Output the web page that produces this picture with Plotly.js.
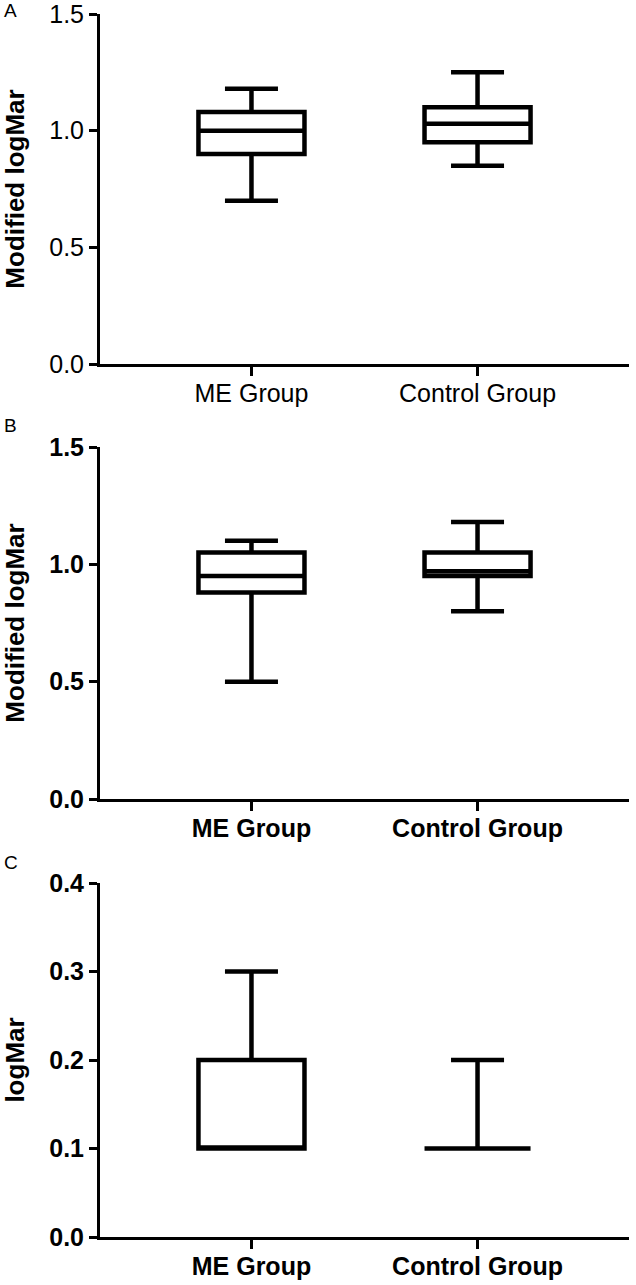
<!DOCTYPE html>
<html>
<head>
<meta charset="utf-8">
<script src="https://cdn.plot.ly/plotly-3.0.1.min.js"></script>
<style>html,body{margin:0;padding:0;background:#fff;}#chart{width:636px;height:1285px;}</style>
</head>
<body>
<div id="chart"></div>
<script>
// Categories
var categories = ['ME Group', 'Control Group'];

// Panel A (Modified logMar)
var aLower  = [0.70, 0.85];
var aQ1     = [0.90, 0.95];
var aMedian = [1.00, 1.03];
var aQ3     = [1.08, 1.10];
var aUpper  = [1.18, 1.25];

// Panel B (Modified logMar)
var bLower  = [0.50, 0.80];
var bQ1     = [0.88, 0.95];
var bMedian = [0.95, 0.97];
var bQ3     = [1.05, 1.05];
var bUpper  = [1.10, 1.18];

// Panel C (logMar)
var cLower  = [0.10, 0.10];
var cQ1     = [0.10, 0.10];
var cMedian = [0.10, 0.10];
var cQ3     = [0.20, 0.10];
var cUpper  = [0.30, 0.20];

var abTicks = [0, 0.5, 1.0, 1.5];
var cTicks = [0, 0.1, 0.2, 0.3, 0.4];

function boxTrace(lo, q1, med, q3, up, xa, ya) {
  return {
    type: 'box', x: categories, lowerfence: lo, q1: q1, median: med, q3: q3, upperfence: up,
    xaxis: xa, yaxis: ya, fillcolor: 'rgba(255,255,255,0)',
    line: {color: '#000', width: 4.5}, whiskerwidth: 0.5, boxpoints: false,
    hoverinfo: 'skip', showlegend: false
  };
}

var data = [
  boxTrace(aLower, aQ1, aMedian, aQ3, aUpper, 'x', 'y'),
  boxTrace(bLower, bQ1, bMedian, bQ3, bUpper, 'x2', 'y2'),
  boxTrace(cLower, cQ1, cMedian, cQ3, cUpper, 'x3', 'y3')
];

var W = 636, H = 1285;
var xdom = [100 / W, 629 / W];
function ydom(top, bot) { return [1 - bot / H, 1 - top / H]; }

var FAM = 'Liberation Sans, Arial, sans-serif';
function xax(anchor, bold) {
  return {
    domain: xdom, anchor: anchor, type: 'category', range: [-0.67, 1.67], fixedrange: true,
    showline: true, linecolor: '#000', linewidth: 3, showgrid: false, zeroline: false,
    ticks: 'outside', ticklen: 9, tickwidth: 3, tickcolor: '#000',
    ticklabelstandoff: -4, ticklabeloverflow: 'allow',
    tickfont: {family: FAM, size: 25, color: '#000', weight: bold ? 'bold' : 'normal'}
  };
}
function yax(anchor, dom, rng, tv, title, bold) {
  return {
    domain: dom, anchor: anchor, range: rng, fixedrange: true,
    tickvals: tv, tickformat: '.1f', ticklabeloverflow: 'allow',
    showline: true, linecolor: '#000', linewidth: 3, showgrid: false, zeroline: false,
    ticks: 'outside', ticklen: 8, tickwidth: 3, tickcolor: '#000',
    tickfont: {family: FAM, size: 25, color: '#000', weight: bold ? 'bold' : 'normal'},
    title: {text: title, standoff: 24, font: {family: FAM, size: 26, color: '#000', weight: 'bold'}}
  };
}

var layout = {
  width: W, height: H, margin: {l: 0, r: 0, t: 0, b: 0},
  paper_bgcolor: '#fff', plot_bgcolor: '#fff', boxgap: 0.33,
  xaxis: xax('y', false),
  yaxis: yax('x', ydom(14, 364), [0, 1.5], abTicks, 'Modified logMar', false),
  xaxis2: xax('y2', true),
  yaxis2: yax('x2', ydom(447, 799), [0, 1.5], abTicks, 'Modified logMar', true),
  xaxis3: xax('y3', true),
  yaxis3: yax('x3', ydom(883, 1237), [0, 0.4], cTicks, 'logMar', true),
  annotations: [
    {text: 'A', x: 2 / W, y: 1 - 11 / H},
    {text: 'B', x: 2 / W, y: 1 - 426 / H},
    {text: 'C', x: 2 / W, y: 1 - 863 / H}
  ].map(function (a) {
    return Object.assign({xref: 'paper', yref: 'paper', xanchor: 'left', yanchor: 'middle',
      showarrow: false, font: {family: FAM, size: 19, color: '#000'}}, a);
  })
};

Plotly.newPlot('chart', data, layout, {displayModeBar: false, staticPlot: true});
</script>
</body>
</html>
